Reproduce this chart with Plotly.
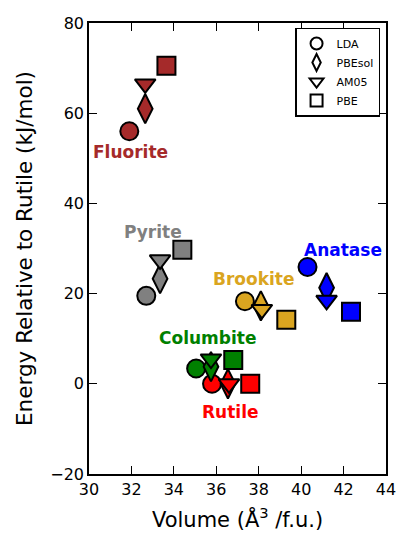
import plotly.graph_objects as go

# TiO2 polymorphs and their colours
polymorphs = ["Fluorite", "Pyrite", "Brookite", "Anatase", "Columbite", "Rutile"]
colors = ["#a52a2a", "#808080", "#daa520", "#0000ff", "#008000", "#ff0000"]

# Exchange-correlation functionals and marker symbols
methods = ["LDA", "PBEsol", "AM05", "PBE"]
symbols = ["circle", "diamond-tall", "triangle-down", "square"]

# Volume (Å^3 / f.u.) per functional, ordered like `polymorphs`
vol_lda = [31.9, 32.7, 37.35, 40.3, 35.05, 35.8]
vol_pbesol = [32.65, 33.35, 38.1, 41.2, 35.75, 36.55]
vol_am05 = [32.65, 33.35, 38.15, 41.2, 35.75, 36.6]
vol_pbe = [33.65, 34.4, 39.3, 42.35, 36.8, 37.6]

# Energy relative to rutile (kJ/mol)
en_lda = [56.0, 19.5, 18.3, 25.9, 3.4, 0.0]
en_pbesol = [61.0, 23.3, 17.3, 21.3, 3.8, 0.0]
en_am05 = [66.5, 27.5, 16.5, 18.5, 5.5, 0.0]
en_pbe = [70.5, 29.7, 14.2, 16.0, 5.3, 0.0]

volumes = [vol_lda, vol_pbesol, vol_am05, vol_pbe]
energies = [en_lda, en_pbesol, en_am05, en_pbe]

# Label anchor points (volume, energy)
label_x = [31.96, 33.04, 37.76, 41.95, 35.6, 36.65]
label_y = [51.4, 33.7, 23.3, 29.7, 10.2, -6.2]

sizes = [18, 21, 18, 18]

fig = go.Figure()

for m, sym, sz, xs, ys in zip(methods, symbols, sizes, volumes, energies):
    fig.add_trace(go.Scatter(
        x=xs, y=ys, mode="markers", showlegend=False, name=m,
        marker=dict(symbol=sym, size=sz, color=colors,
                    line=dict(color="black", width=2)),
    ))

# legend entries (white markers)
for m, sym in zip(methods, symbols):
    fig.add_trace(go.Scatter(
        x=[None], y=[None], mode="markers", name=m,
        marker=dict(symbol=sym, size=12, color="white",
                    line=dict(color="black", width=2)),
    ))

for name, c, lx, ly in zip(polymorphs, colors, label_x, label_y):
    fig.add_annotation(x=lx, y=ly, text=f"<b>{name}</b>", showarrow=False,
                       font=dict(size=17, color=c, family="DejaVu Sans"))

axis_common = dict(
    showline=True, linecolor="black", linewidth=1.5, mirror="ticks",
    ticks="inside", ticklen=8, tickwidth=1, tickcolor="black",
    showgrid=False, zeroline=False, automargin=False,
    tickfont=dict(size=16, color="black", family="DejaVu Sans"),
)

fig.update_xaxes(range=[30, 44], dtick=2, **axis_common,
                 title=dict(text="Volume (Å<sup>3</sup> /f.u.)",
                            font=dict(size=21, color="black", family="DejaVu Sans"),
                            standoff=14))
fig.update_yaxes(range=[-20, 80], dtick=20, **axis_common,
                 title=dict(text="Energy Relative to Rutile (kJ/mol)",
                            font=dict(size=21.5, color="black", family="DejaVu Sans"),
                            standoff=12))

fig.update_layout(
    width=397, height=539,
    margin=dict(l=89, r=11, t=23, b=65, autoexpand=False),
    plot_bgcolor="white", paper_bgcolor="white",
    font=dict(family="DejaVu Sans", color="black"),
    legend=dict(x=0.98, y=0.99, xanchor="right", yanchor="top",
                bordercolor="black", borderwidth=1.5, bgcolor="white",
                font=dict(size=11), itemsizing="constant", tracegroupgap=0),
)

fig.write_html("out.html")
